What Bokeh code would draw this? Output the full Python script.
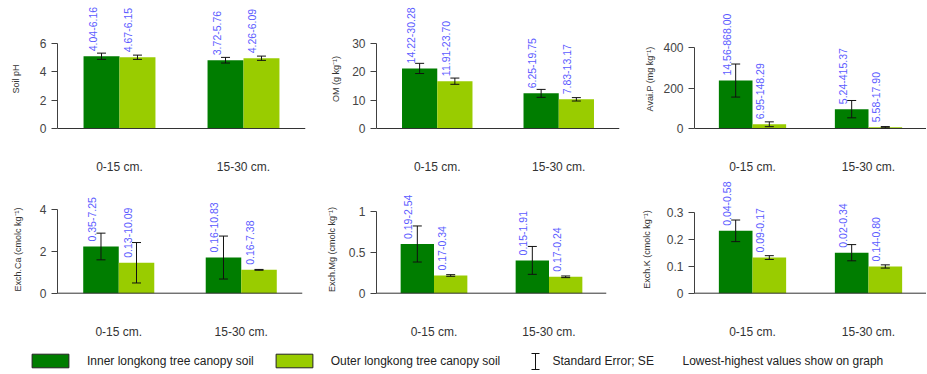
from bokeh.plotting import figure
from bokeh.layouts import row, column
from bokeh.models import (ColumnDataSource, Whisker, TeeHead, FixedTicker,
                          NumeralTickFormatter, Range1d, Legend, LegendItem,
                          Label, FactorRange, Span)
from bokeh.transform import dodge
from bokeh.core.properties import value
from bokeh.embed import file_html
from bokeh.resources import INLINE
from math import pi

# ---------------- data ----------------
depths = ["0-15 cm.", "15-30 cm."]
series_names = ["Inner longkong tree canopy soil", "Outer longkong tree canopy soil"]

ph_inner = [5.10, 4.82]
ph_inner_se = [0.22, 0.20]
ph_outer = [5.03, 4.96]
ph_outer_se = [0.15, 0.15]
ph_inner_range = ["4.04-6.16", "3.72-5.76"]
ph_outer_range = ["4.67-6.15", "4.26-6.09"]

om_inner = [21.2, 12.4]
om_inner_se = [1.8, 1.4]
om_outer = [16.7, 10.3]
om_outer_se = [1.1, 0.6]
om_inner_range = ["14.22-30.28", "6.25-19.75"]
om_outer_range = ["11.91-23.70", "7.83-13.17"]

p_inner = [238.0, 96.0]
p_inner_se = [82.0, 43.0]
p_outer = [21.0, 6.5]
p_outer_se = [12.0, 3.0]
p_inner_range = ["14.56-868.00", "5.24-415.37"]
p_outer_range = ["6.95-148.29", "5.58-17.90"]

ca_inner = [2.24, 1.71]
ca_inner_se = [0.64, 1.03]
ca_outer = [1.46, 1.12]
ca_outer_se = [0.97, 0.02]
ca_inner_range = ["0.35-7.25", "0.16-10.83"]
ca_outer_range = ["0.13-10.09", "0.16-7.38"]

mg_inner = [0.60, 0.40]
mg_inner_se = [0.22, 0.17]
mg_outer = [0.216, 0.20]
mg_outer_se = [0.01, 0.01]
mg_inner_range = ["0.19-2.54", "0.15-1.91"]
mg_outer_range = ["0.17-0.34", "0.17-0.24"]

k_inner = [0.231, 0.150]
k_inner_se = [0.040, 0.030]
k_outer = [0.132, 0.099]
k_outer_se = [0.007, 0.006]
k_inner_range = ["0.04-0.58", "0.02-0.34"]
k_outer_range = ["0.09-0.17", "0.14-0.80"]

ph_ticks = [0, 2, 4, 6]
om_ticks = [0, 10, 20, 30]
p_ticks = [0, 200, 400]
ca_ticks = [0, 2, 4]
mg_ticks = [0, 0.5, 1]
k_ticks = [0, 0.1, 0.2, 0.3]

# ---------------- style ----------------
INNER = "#007d00"
OUTER = "#99cc00"
LABEL_BLUE = "#5c5cff"
FONT = "Liberation Sans"
BW = 0.29
OFF = 0.145


def panel(ylabel, inner, inner_se, outer, outer_se, inner_rng, outer_rng,
          ticks, frame_w, frame_h, above_px, tick_px, bl, br, lab_standoff):
    # vertical scale: top tick sits tick_px above the baseline,
    # baseline sits above_px below the frame top
    per_px = ticks[-1] / tick_px
    below_px = frame_h - above_px
    src = ColumnDataSource(dict(
        cat=depths, inner=inner, outer=outer,
        inner_lo=[m - s for m, s in zip(inner, inner_se)],
        inner_hi=[m + s for m, s in zip(inner, inner_se)],
        outer_lo=[m - s for m, s in zip(outer, outer_se)],
        outer_hi=[m + s for m, s in zip(outer, outer_se)],
        inner_rng=inner_rng, outer_rng=outer_rng))
    p = figure(x_range=FactorRange(factors=depths),
               y_range=Range1d(-below_px * per_px, above_px * per_px),
               frame_width=frame_w, frame_height=frame_h, output_backend="svg",
               toolbar_location=None, min_border_left=bl, min_border_right=br,
               min_border_top=0, min_border_bottom=0)
    p.outline_line_color = None
    p.grid.visible = False
    p.background_fill_color = "white"

    for key, off, col in (("inner", -OFF, INNER), ("outer", OFF, OUTER)):
        xs = dodge("cat", off, range=p.x_range)
        p.vbar(x=xs, top=key, width=BW, source=src, fill_color=col,
               line_color=None)
        w = Whisker(base=xs, upper=key + "_hi", lower=key + "_lo", source=src,
                    line_color="#111111", line_width=1, level="overlay",
                    upper_head=TeeHead(size=9, line_color="#111111", line_width=1),
                    lower_head=TeeHead(size=9, line_color="#111111", line_width=1))
        p.add_layout(w)
        p.text(x=xs, y=key, text=key + "_rng", source=src, angle=pi / 2,
               text_align="left", text_baseline="middle", x_offset=-9,
               y_offset=-5, text_font=value(FONT), text_font_size="10.5px",
               text_color=LABEL_BLUE)

    p.add_layout(Span(location=0, dimension="width", line_color="#333333",
                      line_width=1))

    ya = p.yaxis[0]
    ya.ticker = FixedTicker(ticks=ticks)
    ya.bounds = (0, ticks[-1])
    ya.formatter = NumeralTickFormatter(format="0.[0]")
    ya.minor_tick_line_color = None
    ya.major_tick_out = 6
    ya.major_tick_in = 0
    ya.axis_line_color = "#404040"
    ya.major_tick_line_color = "#404040"
    ya.major_label_text_font = FONT
    ya.major_label_text_font_size = "12px"
    ya.major_label_text_color = "#444444"
    ya.axis_label = ylabel
    ya.axis_label_text_font = FONT
    ya.axis_label_text_font_size = "9px"
    ya.axis_label_text_font_style = "normal"
    ya.axis_label_text_color = "#333333"
    ya.axis_label_standoff = lab_standoff

    xa = p.xaxis[0]
    xa.axis_line_color = None
    xa.major_tick_line_color = None
    xa.minor_tick_line_color = None
    xa.major_tick_out = 0
    xa.major_tick_in = 0
    xa.major_label_standoff = 2
    xa.axis_label_standoff = 0
    xa.major_label_text_font = FONT
    xa.major_label_text_font_size = "12px"
    xa.major_label_text_color = "#333333"
    return p


f1 = panel("Soil pH", ph_inner, ph_inner_se, ph_outer, ph_outer_se,
           ph_inner_range, ph_outer_range, ph_ticks, 248, 157, 128, 85, 57, 3, 16)
f2 = panel("OM (g kg\u207b\u00b9)", om_inner, om_inner_se, om_outer, om_outer_se,
           om_inner_range, om_outer_range, om_ticks, 243, 157, 128, 85, 68, 1, 8)
f3 = panel("Avai.P (mg kg\u207b\u00b9)", p_inner, p_inner_se, p_outer, p_outer_se,
           p_inner_range, p_outer_range, p_ticks, 232, 157, 128, 80.6, 74, 0, 5)
f4 = panel("Exch.Ca (cmolc kg\u207b\u00b9)", ca_inner, ca_inner_se, ca_outer, ca_outer_se,
           ca_inner_range, ca_outer_range, ca_ticks, 245, 146, 116.7, 83.4, 57, 3, 14)
f5 = panel("Exch.Mg (cmolc kg\u207b\u00b9)", mg_inner, mg_inner_se, mg_outer, mg_outer_se,
           mg_inner_range, mg_outer_range, mg_ticks, 230, 146, 116.7, 82, 71, 2, 9)
f6 = panel("Exch.K (cmolc kg\u207b\u00b9)", k_inner, k_inner_se, k_outer, k_outer_se,
           k_inner_range, k_outer_range, k_ticks, 232, 146, 116.7, 81, 86, 0, 12)

# ---------------- legend strip ----------------
LW, LH = 926, 32
lg = figure(width=LW, height=LH, x_range=Range1d(0, LW), y_range=Range1d(0, LH),
            output_backend="svg", toolbar_location=None, min_border=0)
lg.axis.visible = False
lg.grid.visible = False
lg.outline_line_color = None
r_in = lg.vbar(x=[-500], top=[-500], width=1, fill_color=INNER, line_color="#222222")
r_out = lg.vbar(x=[-500], top=[-500], width=1, fill_color=OUTER, line_color="#222222")
leg = Legend(items=[LegendItem(label=series_names[0], renderers=[r_in]),
                    LegendItem(label=series_names[1], renderers=[r_out])],
             orientation="horizontal", location=(27, 4), padding=0, margin=0,
             spacing=17, glyph_width=46, glyph_height=17, label_height=17,
             label_standoff=14, border_line_color=None,
             background_fill_alpha=0, label_text_font=FONT,
             label_text_font_size="12px", label_text_color="#222222")
lg.add_layout(leg)
se_src = ColumnDataSource(dict(x=[535], lo=[4], hi=[20]))
lg.add_layout(Whisker(base="x", upper="hi", lower="lo", source=se_src,
                      line_color="#111111", level="overlay",
                      upper_head=TeeHead(size=8, line_color="#111111"),
                      lower_head=TeeHead(size=8, line_color="#111111")))
lg.add_layout(Label(x=552, y=12.5, text="Standard Error; SE", text_baseline="middle",
                    text_font=FONT, text_font_size="12px", text_color="#222222"))
lg.add_layout(Label(x=682, y=12.5, text="Lowest-highest values show on graph",
                    text_baseline="middle", text_font=FONT,
                    text_font_size="12px", text_color="#222222"))

layout = column(row(f1, f2, f3), row(f4, f5, f6), lg)

open("out.html", "w").write(file_html(layout, INLINE))
